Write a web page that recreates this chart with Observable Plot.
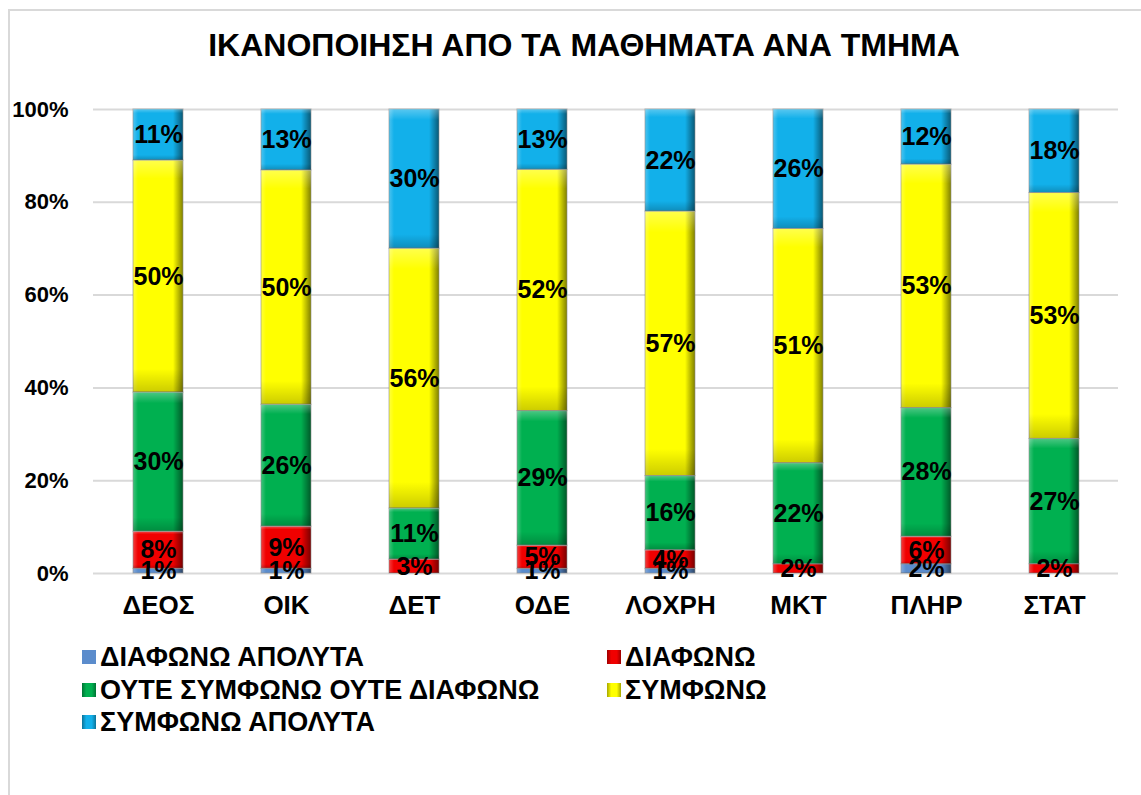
<!DOCTYPE html>
<html>
<head>
<meta charset="utf-8">
<script src="https://cdn.jsdelivr.net/npm/d3@7"></script>
<script src="https://cdn.jsdelivr.net/npm/@observablehq/plot@0.6"></script>
<style>
  html, body { margin: 0; padding: 0; overflow: hidden; background: #fff; width: 1141px; height: 795px; }
  body { position: relative; font-family: "Liberation Sans", Arial, sans-serif; }
  #frame { position: absolute; left: 8px; top: 9px; width: 1200px; height: 900px; border: 2px solid #d9d9d9; box-sizing: border-box; }
  #title { position: absolute; left: 0; top: 27px; width: 1168px; text-align: center; font-size: 32px; font-weight: bold; color: #000; }
  #chart { position: absolute; left: 0; top: 0; }
  #legend { position: absolute; left: 0; top: 0; font-size: 27px; font-weight: bold; color: #000; }
  .item { position: absolute; display: flex; align-items: center; white-space: nowrap; }
  .sw { width: 14px; height: 14px; margin-right: 4px; box-sizing: border-box; }
</style>
</head>
<body>
<div id="frame"></div>
<div id="title">ΙΚΑΝΟΠΟΙΗΣΗ ΑΠΟ ΤΑ ΜΑΘΗΜΑΤΑ ΑΝΑ ΤΜΗΜΑ</div>
<div id="chart"></div>
<div id="legend"></div>
<script>
// ---- data ----
const categories = ["ΔΕΟΣ", "ΟΙΚ", "ΔΕΤ", "ΟΔΕ", "ΛΟΧΡΗ", "ΜΚΤ", "ΠΛΗΡ", "ΣΤΑΤ"];
const seriesNames = ["ΔΙΑΦΩΝΩ ΑΠΟΛΥΤΑ", "ΔΙΑΦΩΝΩ", "ΟΥΤΕ ΣΥΜΦΩΝΩ ΟΥΤΕ ΔΙΑΦΩΝΩ", "ΣΥΜΦΩΝΩ", "ΣΥΜΦΩΝΩ ΑΠΟΛΥΤΑ"];
const diafonoApolyta = [1, 1, 0, 1, 1, 0, 2, 0];
const diafono = [8, 9, 3, 5, 4, 2, 6, 2];
const outeOute = [30, 26, 11, 29, 16, 22, 28, 27];
const symfono = [50, 50, 56, 52, 57, 51, 53, 53];
const symfonoApolyta = [11, 13, 30, 13, 22, 26, 12, 18];
const yTicks = [0, 0.2, 0.4, 0.6, 0.8, 1];
const seriesColors = ["#5b8ccc", "#f00000", "#00b050", "#ffff00", "#12b0ea"];

const seriesValues = [diafonoApolyta, diafono, outeOute, symfono, symfonoApolyta];
const rows = [];
seriesNames.forEach((s, si) => {
  categories.forEach((c, ci) => {
    rows.push({cat: c, series: s, value: seriesValues[si][ci]});
  });
});
const labelRows = rows.filter(d => d.value > 0);

const stackOpts = {x: "cat", y: "value", z: "series", offset: "normalize"};

const plot = Plot.plot({
  width: 1141,
  height: 640,
  marginTop: 109,
  marginBottom: 67,
  marginLeft: 93,
  marginRight: 23,
  style: {fontFamily: "'Liberation Sans', Arial, sans-serif", fontSize: "22px", fontWeight: "bold", color: "#000", background: "transparent", overflow: "visible"},
  x: {domain: categories, paddingInner: 0.61, paddingOuter: 0.305, label: null},
  y: {domain: [0, 1], label: null},
  color: {domain: seriesNames, range: seriesColors},
  marks: [
    Plot.gridY(yTicks, {stroke: "#d9d9d9", strokeOpacity: 1, strokeWidth: 2}),
    Plot.barY(rows, Plot.stackY({...stackOpts, fill: "series", inset: 0})),
    Plot.barY(rows, Plot.stackY({...stackOpts, fill: "url(#shadeH)", stroke: "#8c8c8c", strokeOpacity: 0.6, strokeWidth: 1})),
    Plot.barY(rows, Plot.stackY({...stackOpts, fill: "url(#shadeV)"})),
    Plot.text(labelRows, Plot.stackY({...stackOpts, text: d => d.value + "%", fill: "#000", fontSize: 25, fontWeight: "bold"})),
    Plot.axisY(yTicks, {tickFormat: d3.format(".0%"), tickSize: 0, tickPadding: 25, fontSize: 22, label: null}),
    Plot.axisX({tickSize: 0, tickPadding: 22, fontSize: 26, label: null})
  ]
});

plot.insertAdjacentHTML("afterbegin", `<defs>
  <linearGradient id="shadeH" x1="0" y1="0" x2="1" y2="0">
    <stop offset="0" stop-color="#ffffff" stop-opacity="0.25"/>
    <stop offset="0.1" stop-color="#ffffff" stop-opacity="0"/>
    <stop offset="0.8" stop-color="#000000" stop-opacity="0"/>
    <stop offset="1" stop-color="#000000" stop-opacity="0.5"/>
  </linearGradient>
  <linearGradient id="shadeV" x1="0" y1="0" x2="0" y2="1">
    <stop offset="0" stop-color="#ffffff" stop-opacity="0.3"/>
    <stop offset="0.08" stop-color="#ffffff" stop-opacity="0"/>
    <stop offset="0.9" stop-color="#000000" stop-opacity="0"/>
    <stop offset="1" stop-color="#000000" stop-opacity="0.2"/>
  </linearGradient>
</defs>`);
document.getElementById("chart").appendChild(plot);

// ---- legend ----
const legendPos = [[82, 657], [607, 657], [82, 690], [607, 690], [82, 722]];
const legend = document.getElementById("legend");
seriesNames.forEach((s, i) => {
  const it = document.createElement("div");
  it.className = "item";
  it.style.left = legendPos[i][0] + "px";
  it.style.top = (legendPos[i][1] - 15) + "px";
  it.style.height = "30px";
  const sw = document.createElement("span");
  sw.className = "sw";
  sw.style.background = i === 0 ? seriesColors[i] :
    `linear-gradient(90deg, rgba(0,0,0,0.35), rgba(0,0,0,0) 30%, rgba(0,0,0,0) 70%, rgba(0,0,0,0.35)), ${seriesColors[i]}`;
  it.appendChild(sw);
  const t = document.createElement("span");
  t.textContent = s;
  it.appendChild(t);
  legend.appendChild(it);
});
</script>
</body>
</html>
